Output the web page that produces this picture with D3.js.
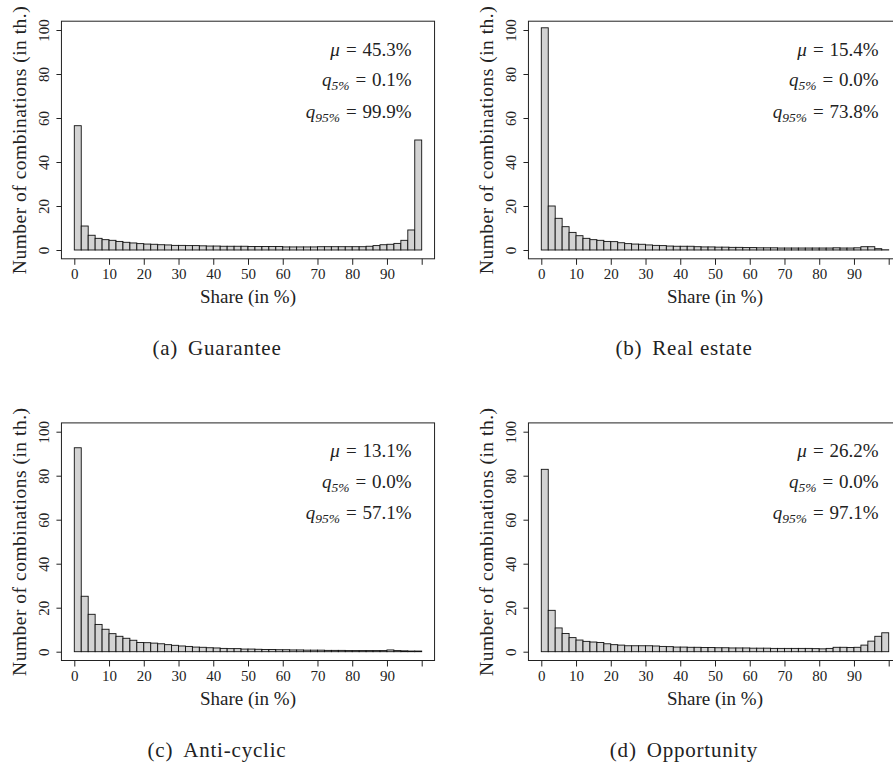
<!DOCTYPE html>
<html>
<head>
<meta charset="utf-8">
<script src="https://cdn.jsdelivr.net/npm/d3@7"></script>
<style>
  body { margin: 0; background: #fff; }
  svg { display: block; }
  svg text { font-family: "Liberation Serif", "DejaVu Serif", serif; }
</style>
</head>
<body>
<div id="chart"></div>
<script>
const width = 893;
const height = 762;
const serif = '"Liberation Serif", "DejaVu Serif", serif';

// panel labels and summary stats
const panelLetters = ['(a)', '(b)', '(c)', '(d)'];
const panelTitles = ['Guarantee', 'Real estate', 'Anti-cyclic', 'Opportunity'];
const means = ['45.3', '15.4', '13.1', '26.2'];
const q5s = ['0.1', '0.0', '0.0', '0.0'];
const q95s = ['99.9', '73.8', '57.1', '97.1'];

// histogram bins: 2% wide, 0..100
const binWidth = 2;
const binStarts = d3.range(0, 100, binWidth);

// number of combinations per bin (in thousands)
const guarantee = [56.5, 10.9, 6.7, 5.3, 4.7, 4.4, 3.9, 3.5, 3.2, 2.9,
  2.7, 2.6, 2.4, 2.3, 2.1, 2.1, 2.0, 2.0, 1.9, 1.8,
  1.8, 1.7, 1.7, 1.7, 1.7, 1.6, 1.6, 1.6, 1.6, 1.6,
  1.4, 1.4, 1.4, 1.4, 1.4, 1.5, 1.5, 1.5, 1.5, 1.5,
  1.5, 1.5, 1.7, 2.0, 2.4, 2.6, 3.0, 4.4, 9.1, 50.0];
const realEstate = [101, 20.0, 14.4, 10.6, 8.0, 6.5, 5.3, 4.7, 4.4, 3.9,
  3.8, 3.3, 2.9, 2.7, 2.6, 2.3, 2.1, 2.0, 1.8, 1.7,
  1.7, 1.7, 1.5, 1.4, 1.4, 1.3, 1.3, 1.2, 1.2, 1.1,
  1.1, 1.0, 1.0, 1.0, 0.9, 0.9, 0.9, 0.9, 0.9, 0.9,
  0.9, 0.9, 1.0, 0.9, 0.9, 1.0, 1.5, 1.5, 0.6, 0.1];
const antiCyclic = [92.7, 25.2, 17.0, 12.4, 10.2, 8.2, 7.0, 6.1, 5.2, 4.2,
  4.1, 3.9, 3.6, 3.2, 2.9, 2.6, 2.4, 2.1, 2.0, 1.8,
  1.7, 1.5, 1.4, 1.4, 1.2, 1.2, 1.1, 1.0, 1.0, 0.9,
  0.9, 0.8, 0.8, 0.7, 0.7, 0.7, 0.6, 0.6, 0.6, 0.5,
  0.5, 0.5, 0.5, 0.5, 0.5, 0.8, 0.5, 0.4, 0.3, 0.3];
const opportunity = [82.9, 18.8, 10.8, 8.3, 6.4, 5.3, 4.7, 4.4, 4.2, 3.6,
  3.2, 3.0, 2.7, 2.7, 2.7, 2.7, 2.6, 2.4, 2.3, 2.1,
  2.1, 2.0, 2.0, 1.9, 1.9, 1.8, 1.8, 1.7, 1.7, 1.7,
  1.6, 1.6, 1.6, 1.5, 1.5, 1.5, 1.5, 1.5, 1.5, 1.4,
  1.3, 1.5, 2.0, 2.0, 1.9, 2.0, 3.0, 4.8, 7.0, 8.6];
const panelCounts = [guarantee, realEstate, antiCyclic, opportunity];

const xTicks = [0, 10, 20, 30, 40, 50, 60, 70, 80, 90, 100];
const xTickLabels = ['0', '10', '20', '30', '40', '50', '60', '70', '80', '90', ''];
const yTicks = [0, 20, 40, 60, 80, 100];

const colStep = 467;
const rowStep = 401.7;

const x = d3.scaleLinear().domain([0, 100]).range([74.3, 421.7]);
const y = d3.scaleLinear().domain([0, 100]).range([250, 30]);

// R style box: 4% padding round the data range
const boxLeft = x(-3.7), boxRight = x(103.7);
const boxTop = y(104), boxBottom = y(-4);

const svg = d3.select('#chart')
  .append('svg')
  .attr('width', width)
  .attr('height', height);

panelCounts.forEach((counts, i) => {
  const col = i % 2, row = Math.floor(i / 2);
  const g = svg.append('g')
    .attr('transform', `translate(${col * colStep},${row * rowStep})`);

  g.append('g')
    .selectAll('rect')
    .data(binStarts.map((s, k) => ({ start: s, value: counts[k] })))
    .join('rect')
    .attr('x', d => x(d.start))
    .attr('width', d => x(d.start + binWidth) - x(d.start))
    .attr('y', d => y(d.value))
    .attr('height', d => y(0) - y(d.value))
    .attr('fill', '#d3d3d3')
    .attr('stroke', '#111')
    .attr('stroke-width', 0.9);

  g.append('rect')
    .attr('x', boxLeft)
    .attr('y', boxTop)
    .attr('width', boxRight - boxLeft)
    .attr('height', boxBottom - boxTop)
    .attr('fill', 'none')
    .attr('stroke', '#222')
    .attr('stroke-width', 1);

  const yAxis = g.append('g')
    .attr('transform', `translate(${boxLeft},0)`)
    .call(d3.axisLeft(y).tickValues(yTicks).tickSize(5).tickSizeOuter(0));
  yAxis.attr('font-family', serif);
  yAxis.select('.domain').remove();
  yAxis.selectAll('.tick line').attr('stroke', '#222');
  yAxis.selectAll('.tick text')
    .attr('transform', 'rotate(-90)')
    .attr('x', 0)
    .attr('y', -12.5)
    .attr('dy', 0)
    .attr('text-anchor', 'middle')
    .attr('fill', '#222')
    .style('font-size', '15px')
    .style('font-family', serif);

  const xAxis = g.append('g')
    .attr('transform', `translate(0,${boxBottom})`)
    .call(d3.axisBottom(x).tickValues(xTicks)
      .tickFormat((d, k) => xTickLabels[k])
      .tickSize(6).tickSizeOuter(0).tickPadding(4));
  xAxis.attr('font-family', serif);
  xAxis.select('.domain').remove();
  xAxis.selectAll('.tick line').attr('stroke', '#222');
  xAxis.selectAll('.tick text')
    .attr('fill', '#222')
    .style('font-size', '15px')
    .style('font-family', serif);

  g.append('text')
    .attr('transform', `translate(26,${(boxTop + boxBottom) / 2}) rotate(-90)`)
    .attr('text-anchor', 'middle')
    .attr('fill', '#222')
    .style('font-family', serif)
    .style('font-size', '19.5px')
    .style('letter-spacing', '0.5px')
    .text('Number of combinations (in th.)');

  g.append('text')
    .attr('x', (boxLeft + boxRight) / 2)
    .attr('y', 303)
    .attr('text-anchor', 'middle')
    .attr('fill', '#222')
    .style('font-family', serif)
    .style('font-size', '19px')
    .text('Share (in %)');

  // summary statistics in the top right corner
  const statX = 411.7;
  const mu = g.append('text')
    .attr('x', statX).attr('y', 55.7)
    .attr('text-anchor', 'end')
    .attr('fill', '#222')
    .style('font-family', serif)
    .style('font-size', '19px');
  mu.append('tspan').attr('font-style', 'italic').text('μ');
  mu.append('tspan').attr('dx', 6).text('=');
  mu.append('tspan').attr('dx', 6).text(means[i] + '%');

  [[q5s[i], '5%', 86], [q95s[i], '95%', 117.7]].forEach(([val, sub, yy]) => {
    const t = g.append('text')
      .attr('x', statX).attr('y', yy)
      .attr('text-anchor', 'end')
      .attr('fill', '#222')
      .style('font-family', serif)
      .style('font-size', '19px');
    t.append('tspan').attr('font-style', 'italic').text('q');
    t.append('tspan').attr('font-style', 'italic')
      .attr('dy', 4).style('font-size', '13.5px').text(sub);
    t.append('tspan').attr('dy', -4).attr('dx', 6).text('=');
    t.append('tspan').attr('dx', 6).text(val + '%');
  });

  const cap = g.append('text')
    .attr('x', 217)
    .attr('y', 355)
    .attr('text-anchor', 'middle')
    .attr('fill', '#222')
    .style('font-family', serif)
    .style('font-size', '21px')
    .style('letter-spacing', '0.8px');
  cap.append('tspan').text(panelLetters[i]);
  cap.append('tspan').attr('dx', 10).text(panelTitles[i]);
});
</script>
</body>
</html>
